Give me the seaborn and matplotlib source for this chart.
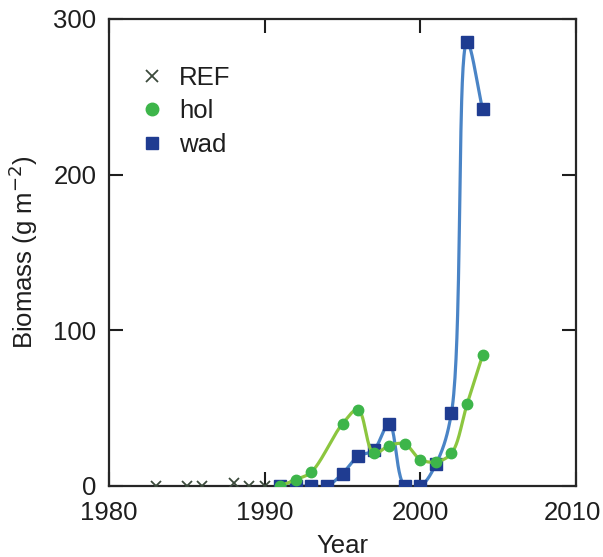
import numpy as np
import pandas as pd
import matplotlib
matplotlib.use("Agg")
import matplotlib.pyplot as plt
import matplotlib.transforms as mtransforms
import seaborn as sns
from matplotlib.lines import Line2D

# ---- data ----
ref_years = [1983, 1985, 1986, 1988, 1989, 1990]
ref_vals = [0, 0, 0, 2, 0, 0]

hol_years = [1991, 1992, 1993, 1995, 1996, 1997, 1998, 1999, 2000, 2001, 2002, 2003, 2004]
hol_vals = [0, 4, 9, 40, 49, 21, 26, 27, 17, 15.5, 21, 52.5, 84]

wad_years = [1991, 1992, 1993, 1994, 1995, 1996, 1997, 1998, 1999, 2000, 2001, 2002, 2003, 2004]
wad_vals = [0, 0, 0, 0, 8, 19, 23, 40, 0, 0, 14, 47, 285, 242]

x_ticks = [1980, 1990, 2000, 2010]
y_ticks = [0, 100, 200, 300]

sns.set_theme(style="ticks")
plt.rcParams['font.family'] = ['Liberation Sans', 'DejaVu Sans']
TXT = '#1e1e1e'


def smooth(xs, ys, n=40, xscale=10.0, alpha=0.5):
    """Centripetal Catmull-Rom curve through the data points (display only)."""
    P = np.column_stack([np.asarray(xs, float) * xscale, np.asarray(ys, float)])
    P = np.vstack([2 * P[0] - P[1], P, 2 * P[-1] - P[-2]])
    out = []
    for i in range(1, len(P) - 2):
        p0, p1, p2, p3 = P[i - 1], P[i], P[i + 1], P[i + 2]
        t0 = 0.0
        t1 = t0 + np.linalg.norm(p1 - p0) ** alpha
        t2 = t1 + np.linalg.norm(p2 - p1) ** alpha
        t3 = t2 + np.linalg.norm(p3 - p2) ** alpha
        t = np.linspace(t1, t2, n, endpoint=False)[:, None]
        a1 = (t1 - t) / (t1 - t0) * p0 + (t - t0) / (t1 - t0) * p1
        a2 = (t2 - t) / (t2 - t1) * p1 + (t - t1) / (t2 - t1) * p2
        a3 = (t3 - t) / (t3 - t2) * p2 + (t - t2) / (t3 - t2) * p3
        b1 = (t2 - t) / (t2 - t0) * a1 + (t - t0) / (t2 - t0) * a2
        b2 = (t3 - t) / (t3 - t1) * a2 + (t - t1) / (t3 - t1) * a3
        c = (t2 - t) / (t2 - t1) * b1 + (t - t1) / (t2 - t1) * b2
        out.append(c)
    out.append(P[-2][None, :])
    out = np.vstack(out)
    return pd.DataFrame({'x': out[:, 0] / xscale, 'y': out[:, 1]})


fig = plt.figure(figsize=(6.03, 5.57), dpi=100)
ax = fig.add_axes([0.1808, 0.1275, 0.9552 - 0.1808, 0.9659 - 0.1275])

blue_line = '#4a84c6'
blue_mark = '#1f3c91'
green_line = '#8cc63f'
green_mark = '#3db54a'
ref_col = '#3b4a3b'

wad_s = smooth(wad_years, wad_vals)
hol_s = smooth(hol_years, hol_vals)

sns.lineplot(data=wad_s, x='x', y='y', sort=False, estimator=None, ax=ax,
             color=blue_line, linewidth=2.3, zorder=2)
ax.plot(wad_years, wad_vals, linestyle='none', marker='s', markersize=8,
        color=blue_mark, zorder=3)
sns.lineplot(data=hol_s, x='x', y='y', sort=False, estimator=None, ax=ax,
             color=green_line, linewidth=2.3, zorder=4)
ax.plot(hol_years, hol_vals, linestyle='none', marker='o', markersize=7.5,
        color=green_mark, zorder=5)
ax.plot(ref_years, ref_vals, linestyle='none', marker='x', markersize=7,
        markeredgewidth=1.3, color=ref_col, zorder=6)

ax.set_xlim(1980, 2010)
ax.set_ylim(0, 300)
ax.set_xticks(x_ticks)
ax.set_yticks(y_ticks)
ax.tick_params(direction='in', length=10, width=1.5, top=True, right=True,
               labelsize=18.5, colors=TXT, pad=9)
ax.tick_params(axis='x', pad=11)
for s in ax.spines.values():
    s.set_linewidth(1.6)
    s.set_color('#262626')
ax.set_xlabel('Year', fontsize=18.5, color=TXT, labelpad=6)
ax.set_ylabel('Biomass (g m$^{-2}$)', fontsize=18.5, color=TXT, labelpad=10)

# keep the last x tick label just inside the figure edge
last = ax.get_xticklabels()[-1]
last.set_transform(last.get_transform() +
                   mtransforms.ScaledTranslation(-4 / 100, 0, fig.dpi_scale_trans))

handles = [
    Line2D([], [], linestyle='none', marker='x', markersize=9, markeredgewidth=1.3, color=ref_col),
    Line2D([], [], linestyle='none', marker='o', markersize=9, color=green_mark),
    Line2D([], [], linestyle='none', marker='s', markersize=9, color=blue_mark),
]
leg = ax.legend(handles, ['REF', 'hol', 'wad'], loc='upper left',
                bbox_to_anchor=(0.065, 0.90), frameon=False, fontsize=18.5,
                handlelength=1.0, handletextpad=0.55, labelspacing=0.38,
                borderpad=0, borderaxespad=0)
for t in leg.get_texts():
    t.set_color(TXT)

fig.savefig('out.png', dpi=100)
